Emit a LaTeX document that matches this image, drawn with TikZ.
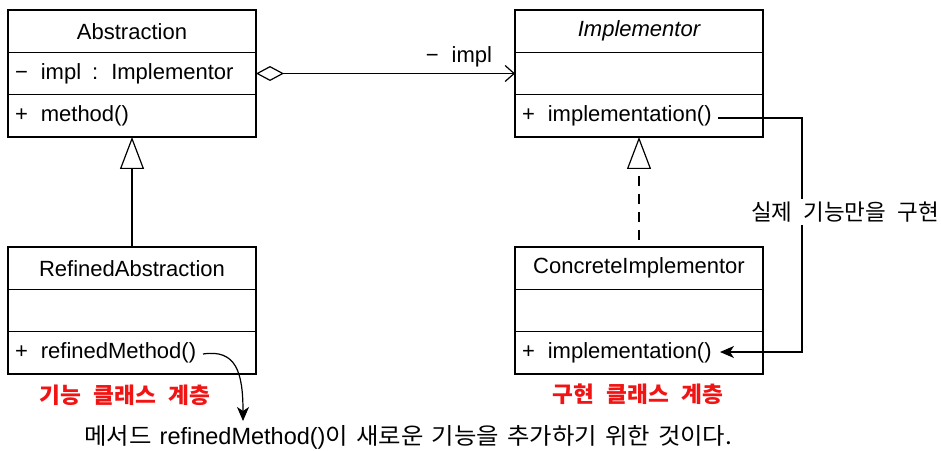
\documentclass[tikz,border=0pt]{standalone}
\usepackage{fontspec}
\setmainfont{Liberation Sans}
\newfontfamily\kr{Noto Sans CJK KR}[WordSpace=2.2]
\newfontfamily\krlayer{Noto Sans CJK KR}[WordSpace=2.4, FakeStretch=1.03]
\newfontfamily\krbody{Noto Sans CJK KR}[WordSpace=1.5, FakeStretch=1.06]
\usetikzlibrary{arrows.meta}

\definecolor{labelred}{RGB}{240,20,20}

\tikzset{
  cell/.style={draw, line width=1.4pt, minimum width=248pt, minimum height=42.33pt,
    inner sep=0pt, outer sep=0pt, font=\fontsize{22pt}{26pt}\selectfont},
  member/.style={cell, text width=234pt, inner xsep=7pt, align=left},
  conn/.style={line width=1.2pt},
  agg/.style={conn, {Diamond[open,length=28pt,width=15pt]}-{Straight Barb[length=9pt,width=16pt]}},
  gen/.style={conn, -{Triangle[open,length=32pt,width=24pt]}},
  realize/.style={gen, dash pattern=on 10pt off 8pt, dash phase=11pt},
  note/.style={conn, -{Stealth[length=14pt,width=12pt,inset=4pt]}},
  krtext/.style={font=\kr\fontsize{22.5pt}{26pt}\selectfont, inner sep=2pt},
  layer/.style={inner sep=2pt, text=labelred, font=\krlayer\bfseries\fontsize{22pt}{26pt}\selectfont}
}
\newcommand\gapsp{\hspace{13pt}}

\begin{document}
\begin{tikzpicture}[x=1pt,y=-1pt]
\useasboundingbox (0,0) rectangle (941,450);

% Abstraction
\node[cell]   (absName)   at (132,31.2)  {Abstraction};
\node[member] (absAttr)   at (132,73.5)  {−\gapsp impl\hspace{11pt}:\gapsp Implementor};
\node[member] (absMethod) at (132,115.8) {+\gapsp method()};

% Implementor
\node[cell]   (impName)   at (639,31.2)  {\itshape Implementor};
\node[member] (impAttr)   at (639,73.5)  {};
\node[member] (impMethod) at (639,115.8) {+\gapsp implementation()};

% RefinedAbstraction
\node[cell]   (refName)   at (132,268.2) {RefinedAbstraction};
\node[member] (refAttr)   at (132,310.5) {};
\node[member] (refMethod) at (132,352.8) {+\gapsp refinedMethod()};

% ConcreteImplementor
\node[cell]   (conName)   at (639,268.2) {ConcreteImplementor};
\node[member] (conAttr)   at (639,310.5) {};
\node[member] (conMethod) at (639,352.8) {+\gapsp implementation()};

% aggregation
\draw[agg] (absAttr.east) -- (impAttr.west);
\node[font=\fontsize{22pt}{26pt}\selectfont] (implLabel) at (459,57) {−\gapsp impl};

% inheritance and realization
\draw[gen] (refName.north) -- (absMethod.south);
\draw[realize] (conName.north) -- (impMethod.south);

% implementation call from the abstract to the concrete class
\coordinate (implOut) at (718,118);
\coordinate (implIn)  at (720,352);
\draw[note] (implOut) -- (802,118) -- (802,352) -- (implIn);
\node[krtext, fill=white, inner ysep=3pt] (implNote) at (845,212) {실제 기능만을 구현};

% hierarchy labels
\node[layer] (funcLayer) at (125,395) {기능 클래스 계층};
\node[layer] (implLayer) at (638,394) {구현 클래스 계층};

% explanation of refinedMethod()
\coordinate (refOut) at (203,354);
\node[anchor=west, inner sep=0pt] (explain) at (84,437)
  {\krbody\fontsize{23pt}{27pt}\selectfont 메서드 {\fontspec{Liberation Sans}\fontsize{23.5pt}{27pt}\selectfont refinedMethod()}이 새로운 기능을 추가하기 위한 것이다.};
\coordinate (explainTop) at (243,421);
\draw[note] (refOut) .. controls (236,349) and (243,372) .. (explainTop);
\end{tikzpicture}
\end{document}
